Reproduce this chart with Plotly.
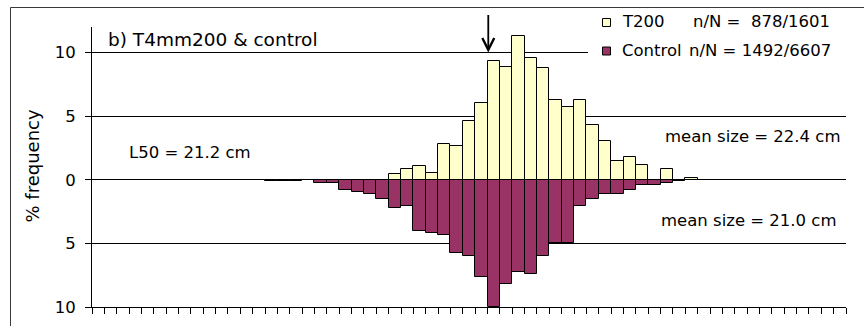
import plotly.graph_objects as go

# ---------------- data ----------------
LENGTH_CM = [5.0, 5.5, 6.0, 6.5, 7.0, 7.5, 8.0, 8.5, 9.0, 9.5,
             10.0, 10.5, 11.0, 11.5, 12.0, 12.5, 13.0, 13.5, 14.0, 14.5,
             15.0, 15.5, 16.0, 16.5, 17.0, 17.5, 18.0, 18.5, 19.0, 19.5,
             20.0, 20.5, 21.0, 21.5, 22.0, 22.5, 23.0, 23.5, 24.0, 24.5,
             25.0, 25.5, 26.0, 26.5, 27.0, 27.5, 28.0, 28.5, 29.0, 29.5,
             30.0, 30.5, 31.0, 31.5, 32.0, 32.5, 33.0, 33.5, 34.0, 34.5,
             35.0]

T200_PCT = [0, 0, 0, 0, 0, 0, 0, 0, 0, 0,
            0, 0, 0, 0, 0, 0, 0, 0, 0, 0,
            0, 0, 0, 0, 0.44, 0.83, 1.11, 0.55, 2.77, 2.64,
            4.61, 6.01, 9.33, 8.89, 11.3, 9.59, 8.76, 6.27, 5.70, 6.27,
            4.33, 3.06, 1.50, 1.81, 1.14, 0, 0.85, 0, 0.17, 0,
            0, 0, 0, 0, 0, 0, 0, 0, 0, 0,
            0]

CONTROL_PCT = [0, 0, 0, 0, 0, 0, 0, 0, 0, 0,
               0, 0, 0, 0, 0.13, 0.13, 0.13, 0, 0.26, 0.26,
               0.83, 0.97, 1.11, 1.55, 2.25, 2.07, 4.02, 4.15, 4.33, 5.73,
               6.01, 7.64, 10.0, 8.21, 7.25, 7.38, 6.01, 5.00, 5.00, 2.07,
               1.55, 1.09, 1.09, 0.83, 0.39, 0.39, 0.26, 0.10, 0, 0,
               0, 0, 0, 0, 0, 0, 0, 0, 0, 0,
               0]

Y_TICKS = [-10, -5, 0, 5, 10]
Y_TICK_LABELS = ["10", "5", "0", "5", "10"]

PANEL_TITLE = "b) T4mm200 & control"
L50_TEXT = "L50 = 21.2 cm"
ARROW_X = 20.78
MEAN_T200 = "mean size = 22.4 cm"
MEAN_CONTROL = "mean size = 21.0 cm"
LEGEND_NAMES = ["T200", "Control"]
LEGEND_COUNTS = ["n/N =  878/1601", "n/N = 1492/6607"]

# ---------------- styling ----------------
FONT = "DejaVu Sans"
FS = 16.5
YELLOW = "#FFFFCC"
PLUM = "#993366"

W_FIG, H_FIG = 864, 326
PLOT_L, PLOT_R, PLOT_T, PLOT_B = 92, 846, 27, 307
ML, MR, MT, MB = PLOT_L, W_FIG - PLOT_R, PLOT_T, H_FIG - PLOT_B
PW = PLOT_R - PLOT_L
PH = PLOT_B - PLOT_T


def px2x(px):
    return (px - PLOT_L) / PW


def py2y(py):
    return (PLOT_B - py) / PH


half = (LENGTH_CM[1] - LENGTH_CM[0]) / 2
x_lo = LENGTH_CM[0] - half
x_hi = LENGTH_CM[-1] + half
x_ticks = [x - half for x in LENGTH_CM] + [x_hi]

fig = go.Figure()
fig.add_bar(x=LENGTH_CM, y=[v if v else None for v in T200_PCT],
            width=2 * half, name="T200",
            marker=dict(color=YELLOW, line=dict(color="#000000", width=1)))
fig.add_bar(x=LENGTH_CM, y=[-v if v else None for v in CONTROL_PCT],
            width=2 * half, name="Control",
            marker=dict(color=PLUM, line=dict(color="#000000", width=1)))

fig.update_layout(
    width=W_FIG, height=H_FIG,
    margin=dict(l=ML, r=MR, t=MT, b=MB, pad=0, autoexpand=False),
    paper_bgcolor="white", plot_bgcolor="white",
    barmode="overlay", bargap=0, showlegend=False,
    font=dict(family=FONT, size=FS, color="#000000"),
)
fig.update_xaxes(range=[x_lo, x_hi], tickvals=x_ticks, showticklabels=False,
                 ticks="outside", ticklen=6, tickwidth=1, tickcolor="#000000",
                 showline=True, linecolor="#000000", linewidth=1,
                 showgrid=False, zeroline=False)
fig.update_yaxes(range=[-10, 12], tickvals=Y_TICKS, ticktext=Y_TICK_LABELS,
                 ticks="outside", ticklen=6, tickwidth=1, tickcolor="#000000",
                 ticklabelstandoff=6,
                 tickfont=dict(family=FONT, size=FS, color="#000000"),
                 showline=True, linecolor="#000000", linewidth=1,
                 showgrid=True, gridcolor="#000000", gridwidth=1,
                 zeroline=True, zerolinecolor="#000000", zerolinewidth=1)

shapes = []
# outer chart frame: only its left and top edges are inside the window
fx0, fy0 = px2x(10.5), py2y(7.5)
fx1, fy1 = px2x(875), py2y(340)
shapes.append(dict(type="path", xref="paper", yref="paper",
                   path=f"M {fx0},{fy1} L {fx0},{fy0} L {fx1},{fy0}",
                   line=dict(color="#3a3a3a", width=1), layer="above"))
# legend box (white, no border)
shapes.append(dict(type="rect", xref="paper", yref="paper",
                   x0=px2x(588), x1=px2x(847), y0=py2y(9), y1=py2y(62),
                   fillcolor="white", line=dict(width=0), layer="above"))
# legend swatches
for (yc, col) in [(22.5, YELLOW), (51.0, PLUM)]:
    shapes.append(dict(type="rect", xref="paper", yref="paper",
                       x0=px2x(602.5), x1=px2x(610.5),
                       y0=py2y(yc + 4), y1=py2y(yc - 4),
                       fillcolor=col, line=dict(color="#000000", width=1),
                       layer="above"))
fig.update_layout(shapes=shapes)

ann = []


def text(s, px, py, anchor="left", size=FS):
    ann.append(dict(text=s, xref="paper", yref="paper", x=px2x(px), y=py2y(py),
                    xanchor=anchor, yanchor="middle", showarrow=False,
                    font=dict(family=FONT, size=size, color="#000000")))


text(PANEL_TITLE, 106, 39.5, size=18.5)
text(L50_TEXT, 127, 152.5)
text(MEAN_T200, 842, 136, anchor="right")
text(MEAN_CONTROL, 838, 220, anchor="right")
text(LEGEND_NAMES[0], 620, 21.7)
text(LEGEND_COUNTS[0], 691, 21.7)
text(LEGEND_NAMES[1], 620, 50)
text(LEGEND_COUNTS[1], 687, 50)

# y-axis title
ann.append(dict(text="% frequency", xref="paper", yref="paper",
                x=px2x(31.5), y=py2y(166), xanchor="center", yanchor="middle",
                textangle=-90, showarrow=False,
                font=dict(family=FONT, size=18, color="#000000")))

# L50 arrow
ann.append(dict(text="", x=ARROW_X, y=10, xref="x", yref="y",
                ax=0, ay=-39, axref="pixel", ayref="pixel",
                showarrow=True, arrowhead=5, arrowsize=1.3, arrowwidth=1.8,
                arrowcolor="#000000", standoff=0))

fig.update_layout(annotations=ann)

fig.write_html("out.html",
               config={"displayModeBar": False},
               post_script="document.body.style.margin='0';")
